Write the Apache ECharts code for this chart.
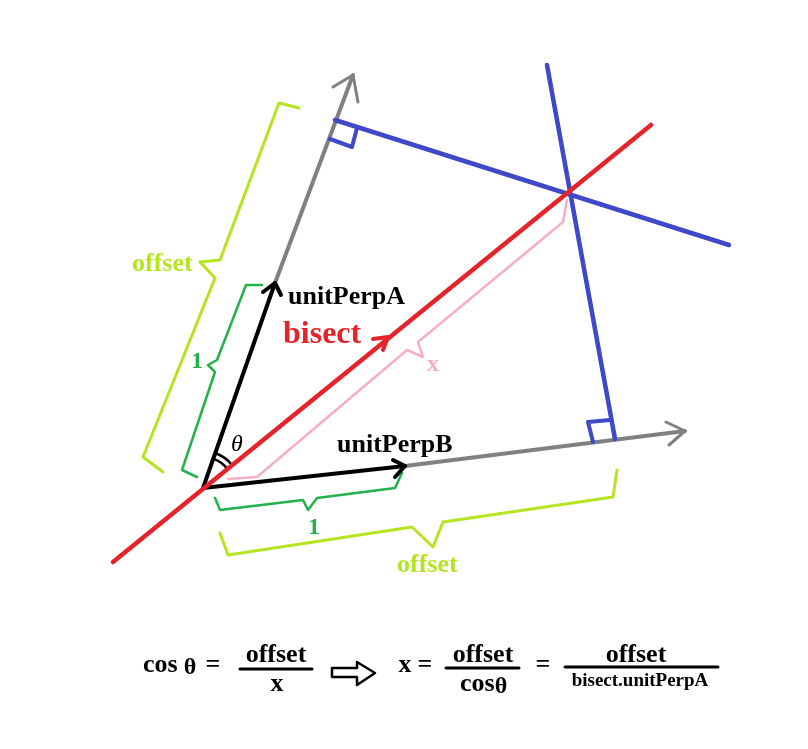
<!DOCTYPE html>
<html>
<head>
<meta charset="utf-8">
<script src="https://cdn.jsdelivr.net/npm/echarts@6/dist/echarts.min.js"></script>
<style>
  html, body { margin: 0; padding: 0; background: #fff; }
  #chart { width: 808px; height: 749px; }
</style>
</head>
<body>
<div id="chart"></div>
<script>
  // picture coordinates, x to the right, y downwards
  var redBisect = [[113, 562], [651, 125]];
  var redHead = [[373, 339], [388, 337], [383, 350]];

  var blackA = [[203, 488], [275, 283]];
  var blackAHead = [[263, 292], [275, 283], [281, 295]];
  var grayA = [[275, 283], [353, 75]];
  var grayAHead = [[333, 87], [353, 75], [358, 102]];

  var blackB = [[203, 488], [405, 466]];
  var blackBHead = [[393, 460], [405, 466], [395, 477]];
  var grayB = [[405, 466], [685, 431]];
  var grayBHead = [[666, 422], [685, 431], [669, 445]];

  var bluePerpA = [[335, 120], [729, 245]];
  var blueSquareA = [[357, 128], [352, 147], [330, 139]];
  var bluePerpB = [[547, 65], [615, 439]];
  var blueSquareB = [[593, 442], [588, 422], [610, 420]];

  var limeBraceA = [[299, 108], [279, 103], [220, 260], [200, 262], [215, 278], [143, 457], [163, 472]];
  var limeBraceB = [[220, 533], [228, 555], [412, 527], [433, 547], [443, 522], [613, 497], [617, 470]];
  var greenBraceA = [[262, 285], [246, 285], [217, 360], [208, 365], [215, 372], [182, 470], [197, 477]];
  var greenBraceB = [[215, 498], [220, 510], [303, 500], [308, 510], [317, 498], [395, 488], [402, 473]];
  var pinkBraceX = [[228, 479], [257, 477], [407, 350], [423, 357], [418, 342], [563, 222], [567, 200]];

  // angle arcs: [cx, cy, r, from deg, to deg]
  var thetaArcs = [[203, 488, 31, 40, 70], [203, 488, 37, 40, 70]];

  // equation
  var fracBars = [[[240, 669], [312, 669]], [[446, 668], [519, 668]], [[565, 667], [718, 667]]];
  var hollowArrow = [[332, 668], [357, 668], [357, 662], [375, 673], [357, 685], [357, 677], [332, 677], [332, 668]];

  var labelText = ['unitPerpA', 'unitPerpB', 'bisect', 'offset', 'offset', '1', '1', 'x', 'θ'];
  var labelPos = [[288, 297], [337, 445], [283, 335], [132, 264], [397, 565], [197, 362], [314, 528], [433, 365], [237, 445]];

  var eqText = ['cos', 'θ', '=', 'offset', 'x', 'x', '=', 'offset', 'cos', 'θ', '=', 'offset', 'bisect.unitPerpA'];
  var eqPos = [[143, 665], [190, 668], [213, 665], [276, 655], [277, 684], [405, 665], [425, 665], [483, 655], [460, 684], [501, 687], [543, 665], [636, 655], [640, 681]];

  var RED = '#e5232b', BLACK = '#000000', GRAY = '#808080', BLUE = '#3f48c8',
    LIME = '#b5e51f', GREEN = '#24b04c', PINK = '#f7aec6';

  var series = [];

  function path(pts, color, width, z) {
    series.push({
      type: 'line',
      data: pts,
      symbol: 'none',
      silent: true,
      z: z,
      lineStyle: { color: color, width: width, cap: 'round', join: 'round' }
    });
  }

  function label(text, pos, color, size, align, weight, style) {
    series.push({
      type: 'scatter',
      data: [{ value: pos, name: text }],
      symbolSize: 0,
      silent: true,
      z: 20,
      itemStyle: { color: color, opacity: 1 },
      label: {
        show: true,
        position: 'inside',
        formatter: '{b}',
        color: color,
        opacity: 1,
        textBorderWidth: 0,
        textBorderColor: 'transparent',
        fontFamily: 'Liberation Serif',
        fontWeight: weight || 'bold',
        fontStyle: style || 'normal',
        fontSize: size,
        align: align || 'left',
        verticalAlign: 'middle'
      }
    });
  }

  path(limeBraceA, LIME, 3, 1);
  path(limeBraceB, LIME, 3, 1);
  path(greenBraceA, GREEN, 2.5, 1);
  path(greenBraceB, GREEN, 2.5, 1);
  path(pinkBraceX, PINK, 2.5, 1);
  path(grayA, GRAY, 4, 2);
  path(grayAHead, GRAY, 3, 2);
  path(grayB, GRAY, 4, 2);
  path(grayBHead, GRAY, 3, 2);
  path(bluePerpA, BLUE, 4.5, 3);
  path(blueSquareA, BLUE, 4, 3);
  path(bluePerpB, BLUE, 4.5, 3);
  path(blueSquareB, BLUE, 4, 3);
  path(blackA, BLACK, 4, 4);
  path(blackAHead, BLACK, 4, 4);
  path(blackB, BLACK, 4, 4);
  path(blackBHead, BLACK, 4, 4);
  path(redBisect, RED, 4.5, 5);
  path(redHead, RED, 4, 5);

  fracBars.forEach(function (bar) { path(bar, BLACK, 3, 5); });
  path(hollowArrow, BLACK, 2.5, 5);

  series.push({
    type: 'custom',
    data: thetaArcs,
    silent: true,
    z: 4,
    renderItem: function (params, api) {
      var c = api.coord([api.value(0), api.value(1)]);
      var r = api.size([api.value(2), 0])[0];
      return {
        type: 'arc',
        shape: {
          cx: c[0], cy: c[1], r: r,
          startAngle: -api.value(4) * Math.PI / 180,
          endAngle: -api.value(3) * Math.PI / 180,
          clockwise: true
        },
        style: { stroke: BLACK, lineWidth: 2.5, fill: null }
      };
    }
  });

  var labelColor = [BLACK, BLACK, RED, LIME, LIME, GREEN, GREEN, PINK, BLACK];
  var labelSize = [26, 26, 32, 26, 26, 24, 24, 24, 24];
  labelText.forEach(function (t, i) {
    var center = t === '1' || t === 'x' || t === 'θ';
    label(t, labelPos[i], labelColor[i], labelSize[i], center ? 'center' : 'left',
      t === 'θ' ? 'normal' : 'bold', t === 'θ' ? 'italic' : 'normal');
  });

  eqText.forEach(function (t, i) {
    var left = (t === 'cos');
    var size = t === 'bisect.unitPerpA' ? 19 : (t === 'θ' ? 24 : 26);
    label(t, eqPos[i], BLACK, size, left ? 'left' : 'center', 'bold');
  });

  var chart = echarts.init(document.getElementById('chart'));
  chart.setOption({
    animation: false,
    backgroundColor: '#ffffff',
    grid: { left: 0, right: 0, top: 0, bottom: 0 },
    xAxis: { type: 'value', min: 0, max: 808, show: false },
    yAxis: { type: 'value', min: 0, max: 749, inverse: true, show: false },
    series: series
  });
</script>
</body>
</html>
